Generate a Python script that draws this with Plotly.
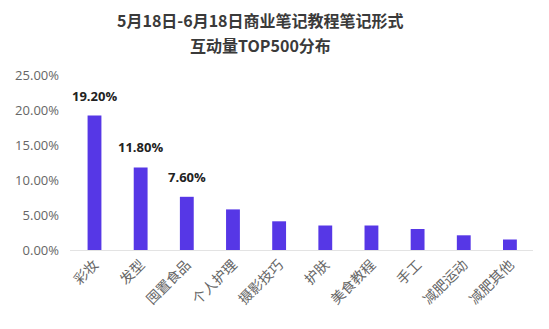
import plotly.graph_objects as go

categories = ["彩妆", "发型", "囤置食品", "个人护理", "摄影技巧", "护肤", "美食教程", "手工", "减肥运动", "减肥其他"]
shares = [19.2, 11.8, 7.6, 5.8, 4.1, 3.5, 3.5, 3.0, 2.1, 1.5]
labeled = 3  # only the top three get value labels
y_ticks = [0, 5, 10, 15, 20, 25]
y_tick_text = ["0.00%", "5.00%", "10.00%", "15.00%", "20.00%", "25.00%"]
title_lines = ["5月18日-6月18日商业笔记教程笔记形式", "互动量TOP500分布"]

font_family = "Open Sans, Noto Sans CJK SC, sans-serif"
title_family = "Noto Sans CJK SC, sans-serif"
bar_color = "#5637e6"

fig = go.Figure(
    go.Bar(
        x=categories,
        y=shares,
        marker=dict(color=bar_color, line=dict(width=0)),
        width=0.3,
    )
)

for cat, val in zip(categories[:labeled], shares[:labeled]):
    fig.add_annotation(
        x=cat, y=val, text=f"<b>{val:.2f}%</b>",
        showarrow=False, yanchor="bottom", yshift=9,
        font=dict(family=font_family, size=13, color="#222222"),
    )

# centred two-line heading, one annotation per line
for line, y_px in zip(title_lines, [20, 45]):
    fig.add_annotation(
        xref="paper", yref="paper", x=0.4125, y=(250 - y_px) / 175,
        xanchor="center", yanchor="middle", showarrow=False,
        text=line,
        font=dict(family=title_family, size=16, color="#3a3a3a", weight=600),
    )

fig.update_layout(
    width=549, height=329,
    margin=dict(l=70, r=16, t=75, b=79),
    paper_bgcolor="white", plot_bgcolor="white",
    font=dict(family=font_family, color="#555555"),
    showlegend=False,
    bargap=0.7,
)
fig.update_xaxes(
    tickangle=-45, tickfont=dict(family=title_family, size=14, color="#666666"),
    showline=True, linecolor="#e3e3e3", linewidth=1, ticks="",
    showgrid=False,
)
fig.update_yaxes(
    range=[0, 25], tickvals=y_ticks, ticktext=y_tick_text,
    tickfont=dict(size=13, color="#666666"),
    showgrid=False, zeroline=False, showline=False, ticks="",
    ticklabelstandoff=10,
)

fig.write_html("out.html")
